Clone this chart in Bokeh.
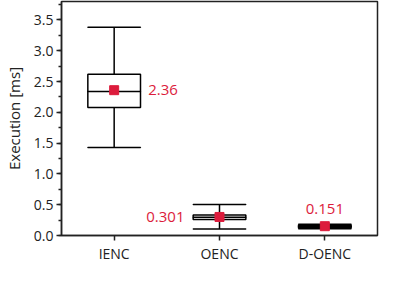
from bokeh.plotting import figure
from bokeh.models import ColumnDataSource, FactorRange, Range1d, SingleIntervalTicker, NumeralTickFormatter
from bokeh.core.properties import value
from bokeh.embed import file_html
from bokeh.resources import INLINE

categories = ["IENC", "OENC", "D-OENC"]
whisker_low = [1.43, 0.107, 0.108]
q1 = [2.08, 0.259, 0.125]
median = [2.34, 0.295, 0.148]
q3 = [2.62, 0.332, 0.168]
whisker_high = [3.38, 0.502, 0.182]
mean = [2.36, 0.301, 0.151]
mean_labels = ["2.36", "0.301", "0.151"]

FONT = "Open Sans"
RED = "#dc1c3c"
INK = "#222222"

src = ColumnDataSource(dict(cat=categories, lo=whisker_low, q1=q1, med=median,
                            q3=q3, hi=whisker_high, mean=mean, lab=mean_labels,
                            xoff=[34, -35, 0], yoff=[0, 0, -17],
                            align=["left", "right", "center"]))

p = figure(width=379, height=265, x_range=FactorRange(*categories),
           y_range=Range1d(0, 3.8), output_backend="svg", toolbar_location=None,
           min_border_left=0, min_border_right=2, min_border_top=1, min_border_bottom=0)

p.xgrid.visible = False
p.ygrid.visible = False
p.outline_line_color = INK
p.outline_line_width = 1.5

# whiskers
p.segment(x0="cat", y0="q3", x1="cat", y1="hi", source=src, line_color="black", line_width=1.5)
p.segment(x0="cat", y0="lo", x1="cat", y1="q1", source=src, line_color="black", line_width=1.5)
# caps
p.rect(x="cat", y="hi", width=0.5, height=0.0001, source=src, fill_color=None,
       line_color="black", line_width=1.5)
p.rect(x="cat", y="lo", width=0.5, height=0.0001, source=src, fill_color=None,
       line_color="black", line_width=1.5)
# boxes
p.vbar(x="cat", bottom="q1", top="q3", width=0.5, source=src, fill_color="white",
       line_color="black", line_width=1.5)
p.rect(x="cat", y="med", width=0.5, height=0.0001, source=src, fill_color=None,
       line_color="black", line_width=1.5)
# means
p.scatter(x="cat", y="mean", source=src, marker="square", size=9, fill_color=RED,
          line_color=RED)
p.text(x="cat", y="mean", text="lab", source=src, x_offset="xoff", y_offset="yoff",
       text_align="align", text_baseline="middle", text_color=RED,
       text_font=value(FONT), text_font_size="15px")

p.yaxis.axis_label = "Execution [ms]"
p.yaxis.ticker = SingleIntervalTicker(interval=0.5, num_minor_ticks=2)
p.yaxis.formatter = NumeralTickFormatter(format="0.0")

for ax in (p.xaxis[0], p.yaxis[0]):
    ax.axis_line_color = INK
    ax.axis_line_width = 1.5
    ax.major_tick_line_color = INK
    ax.major_tick_line_width = 1.5
    ax.minor_tick_line_color = INK
    ax.minor_tick_line_width = 1.5
    ax.major_tick_out = 5
    ax.major_tick_in = 0
    ax.minor_tick_out = 3
    ax.minor_tick_in = 0
    ax.major_label_text_font = FONT
    ax.major_label_text_font_size = "14px"
    ax.major_label_text_color = INK
    ax.axis_label_text_font = FONT
    ax.axis_label_text_font_size = "15px"
    ax.axis_label_text_font_style = "normal"
    ax.axis_label_text_color = INK
    ax.major_label_standoff = 3
p.yaxis.axis_label_standoff = 7

open("out.html", "w").write(file_html(p, INLINE))
